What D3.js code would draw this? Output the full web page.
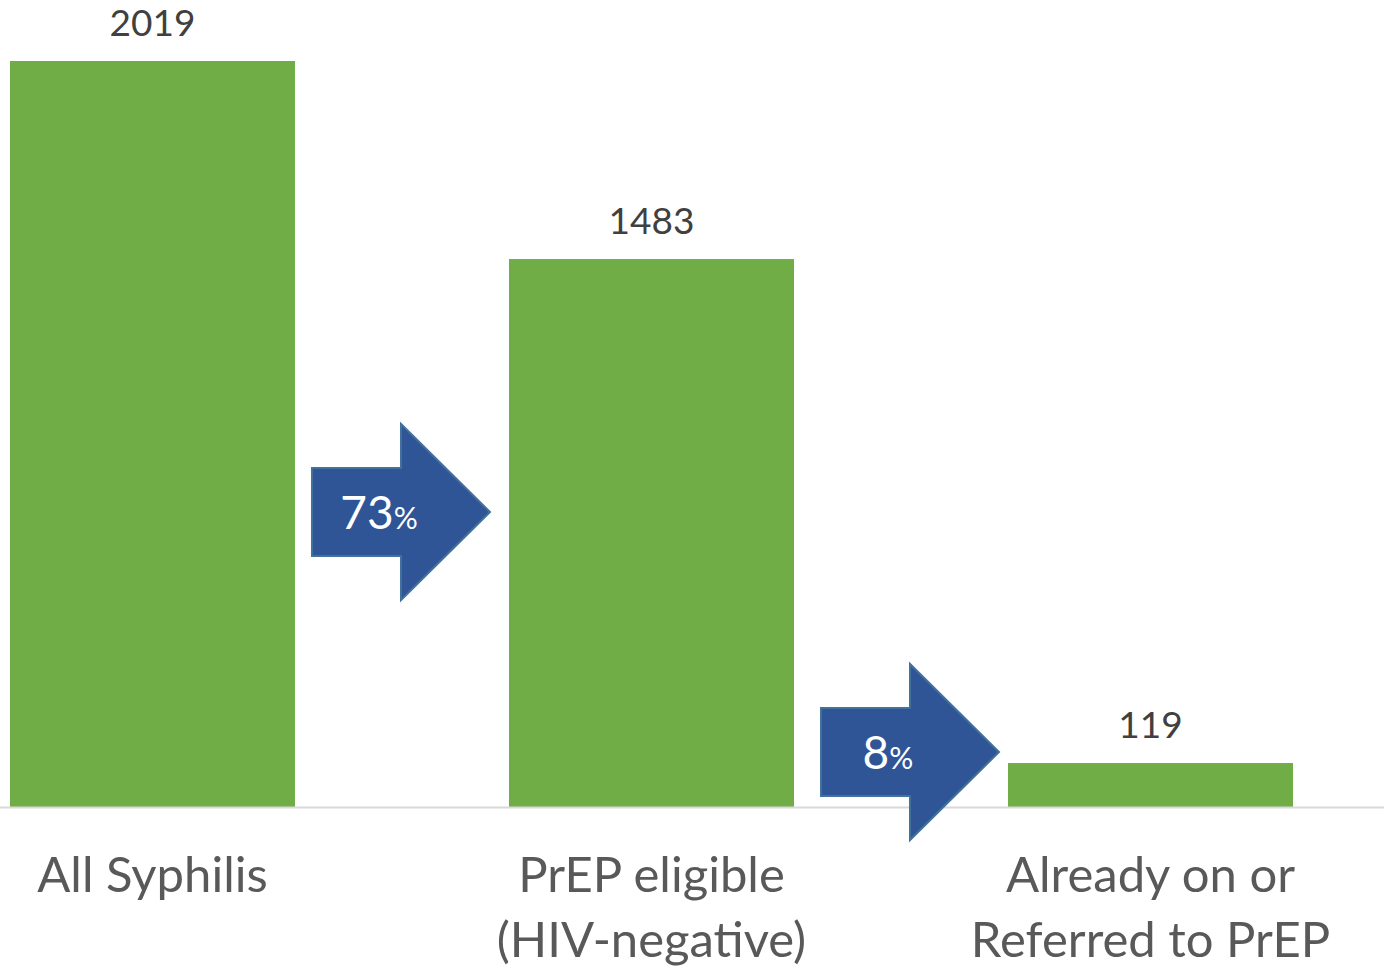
<!DOCTYPE html>
<html><head><meta charset="utf-8">
<script src="https://cdn.jsdelivr.net/npm/d3@7"></script>
<style>body{margin:0;background:#fff}svg{display:block}</style>
</head><body>
<svg id="c" width="1384" height="973"></svg>
<script>
const categories = ["All Syphilis", "PrEP eligible\n(HIV-negative)", "Already on or\nReferred to PrEP"];
const values = [2019, 1483, 119];
const arrowLabels = ["73", "8"];

const svg = d3.select("#c");
const W = 1384, baseY = 807;
const FONT = "Lato, 'Open Sans', sans-serif";

const x = d3.scaleBand().domain(categories).range([10, 1293]).paddingInner(0.4289).paddingOuter(0);
const y = d3.scaleLinear().domain([0, 2019]).range([baseY, 61]);

// bars
svg.selectAll("rect.bar").data(values).join("rect")
  .attr("class", "bar")
  .attr("x", (d, i) => x(categories[i]))
  .attr("y", d => y(d))
  .attr("width", x.bandwidth())
  .attr("height", d => baseY - y(d))
  .attr("fill", "#70AD47");

// baseline
svg.append("line").attr("x1", 0).attr("x2", W).attr("y1", baseY + 0.5).attr("y2", baseY + 0.5)
  .attr("stroke", "#D9D9D9").attr("stroke-width", 2);

// value labels
svg.selectAll("text.val").data(values).join("text")
  .attr("class", "val")
  .attr("x", (d, i) => x(categories[i]) + x.bandwidth() / 2)
  .attr("y", d => y(d) - 25)
  .attr("text-anchor", "middle")
  .attr("font-family", FONT).attr("font-size", 37)
  .attr("fill", "#404040")
  .text(d => d);

// category labels
categories.forEach((c, i) => {
  const lines = c.split("\n");
  const t = svg.append("text")
    .attr("text-anchor", "middle")
    .attr("font-family", FONT).attr("font-size", 49)
    .attr("fill", "#595959");
  lines.forEach((l, j) => {
    t.append("tspan").attr("x", x(categories[i]) + x.bandwidth() / 2)
      .attr("y", 892 + j * 65).text(l);
  });
});

// arrows between bars
function arrow(i, cy, gap) {
  const x0 = x(categories[i]) + x.bandwidth() + gap;
  const len = 178;
  const x1 = x0 + len;
  const headX = x0 + 89;
  const bodyH = 88, headH = 176;
  const pts = [
    [x0, cy - bodyH / 2], [headX, cy - bodyH / 2], [headX, cy - headH / 2],
    [x1, cy], [headX, cy + headH / 2], [headX, cy + bodyH / 2], [x0, cy + bodyH / 2]
  ];
  svg.append("polygon").attr("points", pts.map(p => p.join(",")).join(" "))
    .attr("fill", "#2F5597").attr("stroke", "#41719C").attr("stroke-width", 2);
  const t = svg.append("text")
    .attr("x", x0 + 67).attr("y", cy + 17)
    .attr("text-anchor", "middle")
    .attr("font-family", FONT).attr("fill", "#ffffff");
  t.append("tspan").attr("font-size", 46).text(arrowLabels[i]);
  t.append("tspan").attr("font-size", 30).text("%");
}
arrow(0, 512, 17);
arrow(1, 752, 27);
</script>
</body></html>
